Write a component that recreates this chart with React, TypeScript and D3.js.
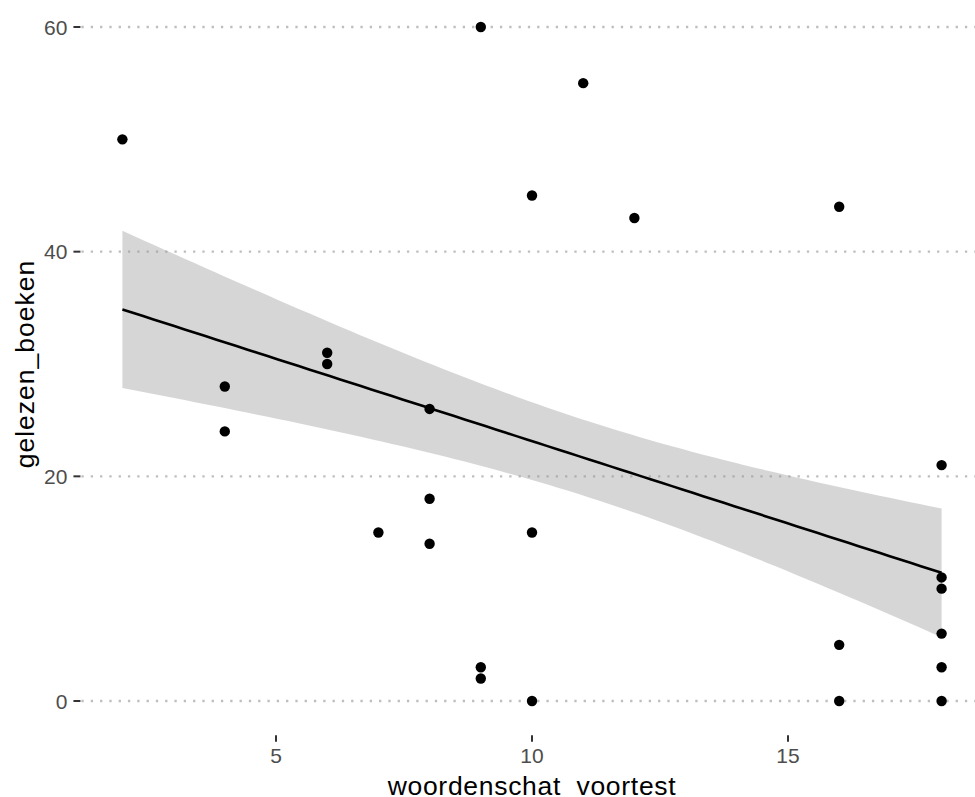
import React from "react";
import * as d3 from "d3";

// Vocabulary pre-test score vs. number of books read, one entry per pupil
const woordenschatVoortest = [2, 4, 4, 6, 6, 7, 8, 8, 8, 9, 9, 9, 10, 10, 10, 11, 12, 16, 16, 16, 18, 18, 18, 18, 18, 18];
const gelezenBoeken = [50, 28, 24, 31, 30, 15, 26, 18, 14, 60, 3, 2, 45, 15, 0, 55, 43, 44, 5, 0, 21, 11, 10, 6, 3, 0];

const xTicks = [5, 10, 15];
const yTicks = [0, 20, 40, 60];

const xTitle = "woordenschat_voortest";
const yTitle = "gelezen_boeken";

// ribbon spans fit ± this many standard errors of the mean prediction
const seMultiplier = 1;

const W = 975;
const H = 797;

// linear fit with standard error of the fitted mean
function linearFit(xs: number[], ys: number[]) {
  const n = xs.length;
  const mx = d3.mean(xs)!;
  const my = d3.mean(ys)!;
  const sxx = d3.sum(xs, (x) => (x - mx) ** 2);
  const sxy = d3.sum(xs, (x, i) => (x - mx) * (ys[i] - my));
  const slope = sxy / sxx;
  const intercept = my - slope * mx;
  const rss = d3.sum(xs, (x, i) => (ys[i] - (intercept + slope * x)) ** 2);
  const s = Math.sqrt(rss / (n - 2));
  return (x: number) => {
    const fit = intercept + slope * x;
    const se = s * Math.sqrt(1 / n + (x - mx) ** 2 / sxx);
    return { x, fit, lo: fit - seMultiplier * se, hi: fit + seMultiplier * se };
  };
}

export default function App() {
  const [xMin, xMax] = d3.extent(woordenschatVoortest) as [number, number];
  const xPad = (xMax - xMin) * 0.05;
  const yPad = (d3.max(gelezenBoeken)! - d3.min(gelezenBoeken)!) * 0.05;

  const x = d3.scaleLinear().domain([xMin - xPad, xMax + xPad]).range([81.44, 982.56]);
  const y = d3
    .scaleLinear()
    .domain([d3.min(gelezenBoeken)! - yPad, d3.max(gelezenBoeken)! + yPad])
    .range([734.7, -6.7]);

  const predict = linearFit(woordenschatVoortest, gelezenBoeken);
  const smooth = d3.range(80).map((i) => predict(xMin + ((xMax - xMin) * i) / 79));

  const ribbon = d3
    .area<{ x: number; lo: number; hi: number }>()
    .x((d) => x(d.x))
    .y0((d) => y(d.lo))
    .y1((d) => y(d.hi));
  const line = d3
    .line<{ x: number; fit: number }>()
    .x((d) => x(d.x))
    .y((d) => y(d.fit));

  const [px0, px1] = x.range();
  const [py0, py1] = y.range();
  const font = "'Liberation Sans', Arial, sans-serif";

  return (
    <svg
      width={W}
      height={H}
      style={{ position: "absolute", left: 0, top: 0, background: "#fff" }}
      fontFamily={font}
    >
      {/* horizontal dotted grid */}
      <g>
        {yTicks.map((t) => (
          <line
            key={t}
            x1={px0}
            x2={px1}
            y1={y(t)}
            y2={y(t)}
            stroke="#bebebe"
            strokeWidth={2.3}
            strokeDasharray="2.3 7"
          />
        ))}
      </g>

      {/* confidence ribbon */}
      <path d={ribbon(smooth)!} fill="#999999" fillOpacity={0.4} stroke="none" />

      {/* observations */}
      <g>
        {woordenschatVoortest.map((v, i) => (
          <circle key={i} cx={x(v)} cy={y(gelezenBoeken[i])} r={5.2} fill="#000" />
        ))}
      </g>

      {/* fitted line */}
      <path d={line(smooth)!} fill="none" stroke="#000" strokeWidth={2.6} />

      {/* y axis */}
      <g>
        {yTicks.map((t) => (
          <g key={t}>
            <line x1={px0 - 8} x2={px0 - 1} y1={y(t)} y2={y(t)} stroke="#333" strokeWidth={2} />
            <text
              x={px0 - 14}
              y={y(t)}
              dy="0.36em"
              textAnchor="end"
              fontSize={21}
              fill="#4d4d4d"
            >
              {t}
            </text>
          </g>
        ))}
      </g>

      {/* x axis */}
      <g>
        {xTicks.map((t) => (
          <g key={t}>
            <line x1={x(t)} x2={x(t)} y1={py0 + 0.5} y2={py0 + 7} stroke="#333" strokeWidth={2} />
            <text x={x(t)} y={763} textAnchor="middle" fontSize={21} fill="#4d4d4d">
              {t}
            </text>
          </g>
        ))}
      </g>

      {/* axis titles */}
      <text
        x={(px0 + px1) / 2}
        y={795}
        textAnchor="middle"
        fontSize={26.5}
        letterSpacing={0.7}
        fill="#000"
      >
        {xTitle}
      </text>
      <text
        transform={`translate(34,${(py0 + py1) / 2}) rotate(-90)`}
        textAnchor="middle"
        fontSize={26.5}
        letterSpacing={1}
        fill="#000"
      >
        {yTitle}
      </text>
    </svg>
  );
}
